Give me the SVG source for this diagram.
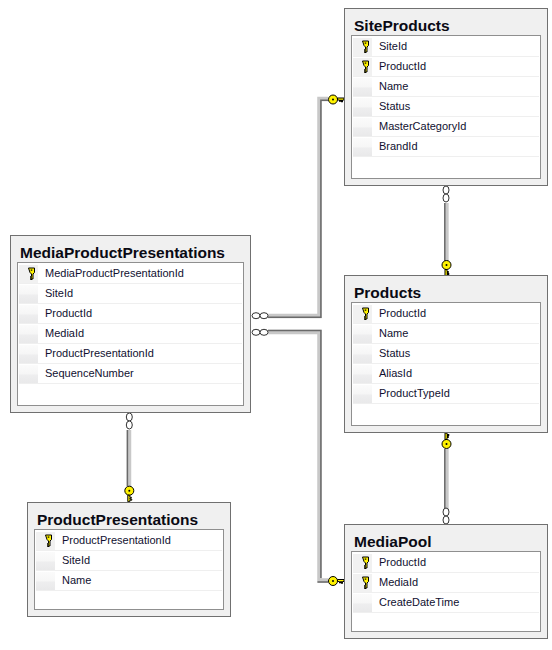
<svg xmlns="http://www.w3.org/2000/svg" width="552" height="650" viewBox="0 0 552 650">
<style>
.box{fill:#f0f0f0;stroke:#707070;stroke-width:1}
.inner{fill:#fff;stroke:#8f8f8f;stroke-width:1}
.sep{stroke:#efefef;stroke-width:1}
.t{font:bold 15.500px "Liberation Sans",sans-serif;fill:#0a0a14}
.f{font:11px "Liberation Sans",sans-serif;fill:#101030}
.l1{fill:none;stroke:#c8c8c8;stroke-width:4.500}
.l2{fill:none;stroke:#6a6a6a;stroke-width:1.500}
.o{fill:#fff;stroke:#333;stroke-width:1}
.k{fill:#fff200;stroke:#000;stroke-width:1}
</style>
<defs>
<linearGradient id="gr" x1="0" y1="0" x2="0" y2="1"><stop offset="0" stop-color="#fbfbfb"/><stop offset=".5" stop-color="#f6f6f6"/><stop offset=".55" stop-color="#eeeeef"/><stop offset="1" stop-color="#e9e9ea"/></linearGradient>
<g id="rk"><path class="k" d="M-3-5.500h6v4.500l-1.500 1.500v5h-1l-1 1-.5-.5v-1h1v-1h-1v-1h1v-2.500l-1.500-1.500z"/><rect x="-.8" y="-4" width="1.600" height="1.200" fill="#000"/></g>
<g id="ck"><circle class="k" r="4.500"/><circle r="1" fill="#000"/><path class="k" d="M4.500 -1.500h6.500v2h-1.500v2h-1v-2h-1v1.500h-1v-1.500h-2z"/></g>
<rect id="g" width="19" height="18" fill="url(#gr)"/>
<rect id="gk" width="19" height="18" fill="#f1f1f1"/>
</defs>

<g id="connectors">
<path class="l1" d="M268 316H319.500V99H328"/><path class="l2" d="M268 317.300H320.900V100.300H328"/>
<path class="l1" d="M268 332H319.500V580.500H328"/><path class="l2" d="M268 330.600H320.900V578"/><path class="l2" d="M317.500 582H328"/>
<path class="l1" d="M446.400 203V261"/><path class="l2" d="M444.800 203V261"/>
<path class="l1" d="M446.400 449V510"/><path class="l2" d="M444.800 449V510"/>
<path class="l1" d="M129 430V486"/><path class="l2" d="M127.400 430V486"/>
<ellipse class="o" cx="256" cy="315.700" rx="4" ry="3"/><ellipse class="o" cx="264" cy="315.700" rx="4" ry="3"/>
<ellipse class="o" cx="256" cy="332.300" rx="4" ry="3"/><ellipse class="o" cx="264" cy="332.300" rx="4" ry="3"/>
<ellipse class="o" cx="446" cy="190" rx="3" ry="4"/><ellipse class="o" cx="446" cy="198" rx="3" ry="4"/>
<ellipse class="o" cx="446" cy="512" rx="3" ry="4"/><ellipse class="o" cx="446" cy="520" rx="3" ry="4"/>
<ellipse class="o" cx="129.300" cy="417" rx="3" ry="4"/><ellipse class="o" cx="129.300" cy="425" rx="3" ry="4"/>
<use href="#ck" transform="translate(333 99.500)"/>
<use href="#ck" transform="translate(333 581)"/>
<use href="#ck" transform="translate(446.500 265) rotate(90) scale(1 -1)"/>
<use href="#ck" transform="translate(129.300 490.700) rotate(90) scale(1 -1)"/>
<use href="#ck" transform="translate(446.500 444) rotate(-90)"/>
</g>

<g id="SiteProducts">
<rect class="box" x="344.500" y="8.500" width="203" height="177"/>
<rect class="inner" x="351.500" y="35.500" width="189" height="143"/>
<text class="t" x="354" y="31">SiteProducts</text>
<path class="sep" d="M353 56.500H539M353 76.500H539M353 96.500H539M353 116.500H539M353 136.500H539M353 156.500H539"/>
<use href="#gk" x="353" y="38"/><use href="#gk" x="353" y="58"/><use href="#g" x="353" y="78"/><use href="#g" x="353" y="98"/><use href="#g" x="353" y="118"/><use href="#g" x="353" y="138"/>
<use href="#rk" x="365.500" y="46.500"/><use href="#rk" x="365.500" y="66.500"/>
<text class="f" x="379" y="50">SiteId</text><text class="f" x="379" y="70">ProductId</text><text class="f" x="379" y="90">Name</text><text class="f" x="379" y="110">Status</text><text class="f" x="379" y="130">MasterCategoryId</text><text class="f" x="379" y="150">BrandId</text>
</g>

<g id="MediaProductPresentations">
<rect class="box" x="10.500" y="235.500" width="240" height="177"/>
<rect class="inner" x="17.500" y="262.500" width="226" height="143"/>
<text class="t" x="20" y="258">MediaProductPresentations</text>
<path class="sep" d="M19 283.500H242M19 303.500H242M19 323.500H242M19 343.500H242M19 363.500H242M19 383.500H242"/>
<use href="#gk" x="19" y="265"/><use href="#g" x="19" y="285"/><use href="#g" x="19" y="305"/><use href="#g" x="19" y="325"/><use href="#g" x="19" y="345"/><use href="#g" x="19" y="365"/>
<use href="#rk" x="31.500" y="273.500"/>
<text class="f" x="45" y="277">MediaProductPresentationId</text><text class="f" x="45" y="297">SiteId</text><text class="f" x="45" y="317">ProductId</text><text class="f" x="45" y="337">MediaId</text><text class="f" x="45" y="357">ProductPresentationId</text><text class="f" x="45" y="377">SequenceNumber</text>
</g>

<g id="Products">
<rect class="box" x="344.500" y="275.500" width="203" height="157"/>
<rect class="inner" x="351.500" y="302.500" width="189" height="123"/>
<text class="t" x="354" y="298">Products</text>
<path class="sep" d="M353 323.500H539M353 343.500H539M353 363.500H539M353 383.500H539M353 403.500H539"/>
<use href="#gk" x="353" y="305"/><use href="#g" x="353" y="325"/><use href="#g" x="353" y="345"/><use href="#g" x="353" y="365"/><use href="#g" x="353" y="385"/>
<use href="#rk" x="365.500" y="313.500"/>
<text class="f" x="379" y="317">ProductId</text><text class="f" x="379" y="337">Name</text><text class="f" x="379" y="357">Status</text><text class="f" x="379" y="377">AliasId</text><text class="f" x="379" y="397">ProductTypeId</text>
</g>

<g id="ProductPresentations">
<rect class="box" x="27.500" y="502.500" width="203" height="114"/>
<rect class="inner" x="34.500" y="529.500" width="189" height="80"/>
<text class="t" x="37" y="525">ProductPresentations</text>
<path class="sep" d="M36 550.500H222M36 570.500H222M36 590.500H222"/>
<use href="#gk" x="36" y="532"/><use href="#g" x="36" y="552"/><use href="#g" x="36" y="572"/>
<use href="#rk" x="48.500" y="540.500"/>
<text class="f" x="62" y="544">ProductPresentationId</text><text class="f" x="62" y="564">SiteId</text><text class="f" x="62" y="584">Name</text>
</g>

<g id="MediaPool">
<rect class="box" x="344.500" y="524.500" width="203" height="114"/>
<rect class="inner" x="351.500" y="551.500" width="189" height="80"/>
<text class="t" x="354" y="547">MediaPool</text>
<path class="sep" d="M353 572.500H539M353 592.500H539M353 612.500H539"/>
<use href="#gk" x="353" y="554"/><use href="#gk" x="353" y="574"/><use href="#g" x="353" y="594"/>
<use href="#rk" x="365.500" y="562.500"/><use href="#rk" x="365.500" y="582.500"/>
<text class="f" x="379" y="566">ProductId</text><text class="f" x="379" y="586">MediaId</text><text class="f" x="379" y="606">CreateDateTime</text>
</g>
</svg>
